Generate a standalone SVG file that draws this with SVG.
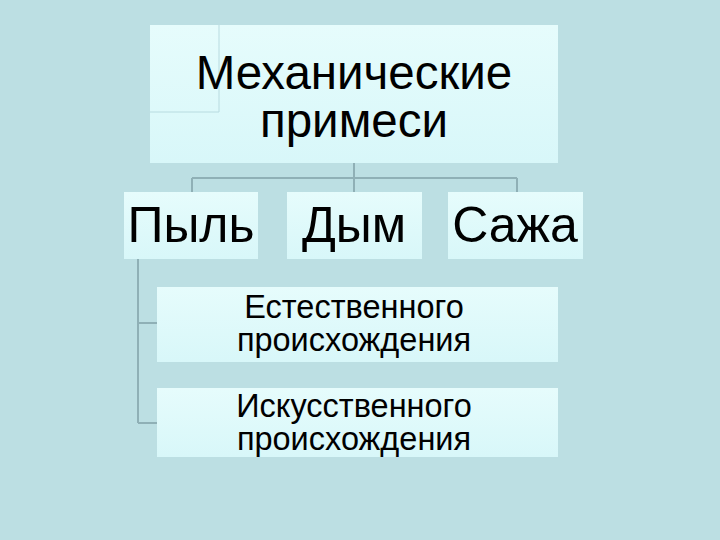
<svg xmlns="http://www.w3.org/2000/svg" width="720" height="540" viewBox="0 0 720 540">
<style>
.box{fill:url(#g);}
.t{font-family:"Liberation Sans",Arial,sans-serif;fill:#000;text-anchor:middle;}
.c{stroke:#8fb0b6;stroke-width:2;fill:none;}
.thin{stroke:#b8dbe0;stroke-width:1;fill:none;}
</style>
<defs>
<linearGradient id="g" x1="0" y1="0" x2="0" y2="1">
<stop offset="0" stop-color="#e6fcfc"/>
<stop offset="1" stop-color="#d8f7f9"/>
</linearGradient>
</defs>
<rect width="720" height="540" fill="#bcdfe3"/>
<g id="connectors">
<path class="c" d="M354,163 V178 M192,178 H517 M192,178 V192 M354,178 V192 M517,178 V192"/>
<path class="c" d="M138,259 V423 M138,323 H158 M138,423 H158"/>
</g>
<g id="root">
<rect class="box" x="150" y="25" width="408" height="138"/>
<path class="thin" d="M219,25 V112 H150"/>
<text class="t" x="354" y="89" font-size="47.5">Механические</text>
<text class="t" x="354" y="137" font-size="47.5">примеси</text>
</g>
<g id="pyl">
<rect class="box" x="124" y="192" width="134" height="67"/>
<text class="t" x="191" y="242" font-size="50">Пыль</text>
</g>
<g id="dym">
<rect class="box" x="287" y="192" width="135" height="67"/>
<text class="t" x="354" y="242" font-size="50">Дым</text>
</g>
<g id="sazha">
<rect class="box" x="448" y="192" width="135" height="67"/>
<text class="t" x="515" y="242" font-size="50">Сажа</text>
</g>
<g id="natural">
<rect class="box" x="157" y="287" width="401" height="75"/>
<text class="t" x="354" y="318" font-size="32.5">Естественного</text>
<text class="t" x="354" y="351" font-size="32.5">происхождения</text>
</g>
<g id="artificial">
<rect class="box" x="157" y="388" width="401" height="69"/>
<text class="t" x="354" y="417" font-size="32.5">Искусственного</text>
<text class="t" x="354" y="450" font-size="32.5">происхождения</text>
</g>
</svg>
